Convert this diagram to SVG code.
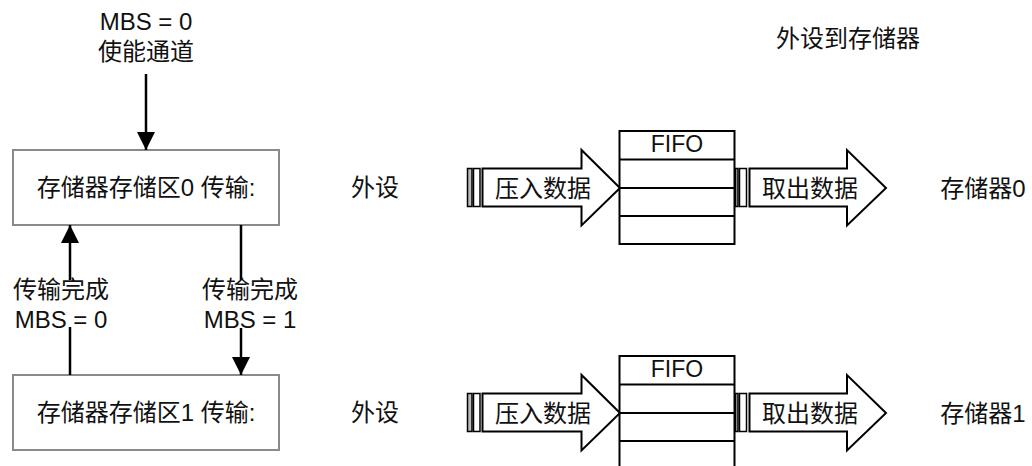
<svg xmlns="http://www.w3.org/2000/svg" width="1032" height="466" viewBox="0 0 1032 466">
<style>
text{font-family:"Liberation Sans","Noto Sans CJK SC",sans-serif;font-size:24px;fill:#111;text-anchor:middle}
text.f{font-size:23px}
.box{fill:#fff;stroke:#8a8a8a;stroke-width:2}
.sh{fill:#fff;stroke:#000;stroke-width:2}
.stripe{fill:#bbb;stroke:#000;stroke-width:1.5}
.ln{stroke:#000;stroke-width:2.5;fill:none}
.rl{stroke:#000;stroke-width:2}
</style>
<defs>
<marker id="ah" viewBox="0 0 10 10" refX="10" refY="5" markerWidth="18" markerHeight="18" markerUnits="userSpaceOnUse" orient="auto">
<path d="M0,0 L10,5 L0,10 Z" fill="#000"/>
</marker>
</defs>
<g id="title"><text x="848" y="47">外设到存储器</text></g>
<g id="start-label"><text x="146" y="30">MBS = 0</text><text x="146" y="60">使能通道</text></g>
<g id="bank0"><rect class="box" x="13" y="150" width="266" height="75"/><text x="146" y="196">存储器存储区0 传输:</text></g>
<g id="bank1"><rect class="box" x="13" y="375" width="266" height="75"/><text x="146" y="421">存储器存储区1 传输:</text></g>
<g id="connectors">
<line class="ln" x1="146" y1="74" x2="146" y2="150" marker-end="url(#ah)"/>
<line class="ln" x1="70" y1="375" x2="70" y2="327"/>
<line class="ln" x1="70" y1="280" x2="70" y2="225" marker-end="url(#ah)"/>
<line class="ln" x1="241" y1="225" x2="241" y2="280"/>
<line class="ln" x1="241" y1="328" x2="241" y2="375" marker-end="url(#ah)"/>
</g>
<g id="label-left"><text x="61" y="298">传输完成</text><text x="61" y="328">MBS = 0</text></g>
<g id="label-right"><text x="250" y="298">传输完成</text><text x="250" y="328">MBS = 1</text></g>
<g id="row0">
<g id="periph0"><text x="375" y="196">外设</text></g>
<g id="push0">
<rect class="stripe" x="467.5" y="168.5" width="4.5" height="38"/>
<rect class="sh" x="473.5" y="168.5" width="6.5" height="38" style="stroke-width:1.5"/>
<path class="sh" d="M482.5,168.5 H581.5 V150 L620,188 L581.5,225.5 V206.5 H482.5 Z"/>
<text x="543" y="197">压入数据</text>
</g>
<g id="fifo0">
<rect class="sh" x="619.5" y="131" width="115" height="113"/>
<line class="rl" x1="619.5" y1="159.5" x2="734.5" y2="159.5"/>
<line class="rl" x1="619.5" y1="188" x2="734.5" y2="188"/>
<line class="rl" x1="619.5" y1="216" x2="734.5" y2="216"/>
<text class="f" x="677" y="152">FIFO</text>
</g>
<g id="pop0">
<rect class="stripe" x="735.5" y="168.5" width="2.5" height="38"/>
<rect class="sh" x="739.5" y="168.5" width="7" height="38" style="stroke-width:1.5"/>
<path class="sh" d="M749.5,168.5 H847 V150 L886,188 L847,225.5 V206.5 H749.5 Z"/>
<text x="810" y="197">取出数据</text>
</g>
<g id="mem0"><text x="983" y="197">存储器0</text></g>
</g>
<g id="row1" transform="translate(0,225)">
<g id="periph1"><text x="375" y="196">外设</text></g>
<g id="push1">
<rect class="stripe" x="467.5" y="168.5" width="4.5" height="38"/>
<rect class="sh" x="473.5" y="168.5" width="6.5" height="38" style="stroke-width:1.5"/>
<path class="sh" d="M482.5,168.5 H581.5 V150 L620,188 L581.5,225.5 V206.5 H482.5 Z"/>
<text x="543" y="197">压入数据</text>
</g>
<g id="fifo1">
<rect class="sh" x="619.5" y="131" width="115" height="113"/>
<line class="rl" x1="619.5" y1="159.5" x2="734.5" y2="159.5"/>
<line class="rl" x1="619.5" y1="188" x2="734.5" y2="188"/>
<line class="rl" x1="619.5" y1="216" x2="734.5" y2="216"/>
<text class="f" x="677" y="152">FIFO</text>
</g>
<g id="pop1">
<rect class="stripe" x="735.5" y="168.5" width="2.5" height="38"/>
<rect class="sh" x="739.5" y="168.5" width="7" height="38" style="stroke-width:1.5"/>
<path class="sh" d="M749.5,168.5 H847 V150 L886,188 L847,225.5 V206.5 H749.5 Z"/>
<text x="810" y="197">取出数据</text>
</g>
<g id="mem1"><text x="983" y="197">存储器1</text></g>
</g>
</svg>
